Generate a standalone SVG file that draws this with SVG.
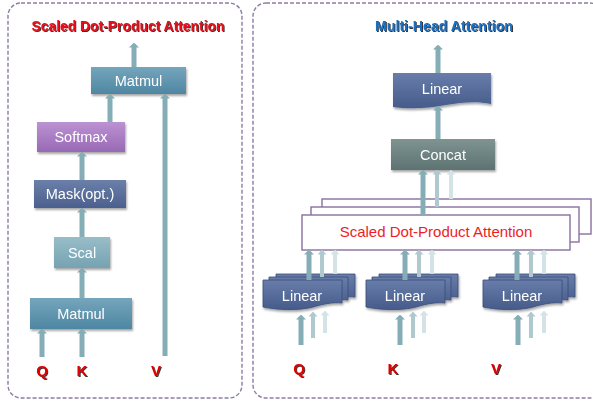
<svg xmlns="http://www.w3.org/2000/svg" width="593" height="401" viewBox="0 0 593 401">
<defs>
<style>
.panel{fill:#fff;stroke:#8c7ca3;stroke-width:1.4;stroke-dasharray:4 2}
.lbl{font-family:"Liberation Sans",Arial,sans-serif;font-size:14.5px;fill:#fff;text-anchor:middle}
.ttl{font-family:"Liberation Sans",Arial,sans-serif;font-size:14px;font-weight:bold;text-anchor:middle;filter:url(#ts)}
.qkv{font-family:"Liberation Sans",Arial,sans-serif;font-size:15px;font-weight:bold;fill:#e00000;text-anchor:middle;filter:url(#ts)}
.ar1{stroke:#85adb6;stroke-width:5;fill:none;marker-end:url(#m1)}
.ar2{stroke:#afc9cf;stroke-width:4;fill:none;marker-end:url(#m2)}
.ar3{stroke:#d4e3e6;stroke-width:4;fill:none;marker-end:url(#m3)}
.sd{fill:#fff;stroke:#8a6f9e;stroke-width:1.4}
.lin{fill:url(#gLin);stroke:#3b4d77;stroke-width:0.8}
</style>
<filter id="ds" x="-10%" y="-10%" width="130%" height="140%"><feDropShadow dx="1" dy="2" stdDeviation="1.2" flood-color="#000" flood-opacity="0.35"/></filter>
<filter id="ts" x="-5%" y="-20%" width="110%" height="150%"><feDropShadow dx="1" dy="1" stdDeviation="0.4" flood-color="#1a1a1a" flood-opacity="0.9"/></filter>
<linearGradient id="gMat" x1="0" y1="0" x2="0" y2="1"><stop offset="0" stop-color="#74a6bc"/><stop offset="1" stop-color="#4f86a2"/></linearGradient>
<linearGradient id="gSoft" x1="0" y1="0" x2="0" y2="1"><stop offset="0" stop-color="#bb92d2"/><stop offset="1" stop-color="#9869b5"/></linearGradient>
<linearGradient id="gMask" x1="0" y1="0" x2="0" y2="1"><stop offset="0" stop-color="#6a7fa9"/><stop offset="1" stop-color="#4b608e"/></linearGradient>
<linearGradient id="gScal" x1="0" y1="0" x2="0" y2="1"><stop offset="0" stop-color="#97bdc8"/><stop offset="1" stop-color="#76a2b2"/></linearGradient>
<linearGradient id="gCon" x1="0" y1="0" x2="0" y2="1"><stop offset="0" stop-color="#7f9491"/><stop offset="1" stop-color="#5d7372"/></linearGradient>
<linearGradient id="gLin" x1="0" y1="0" x2="0" y2="1"><stop offset="0" stop-color="#687daa"/><stop offset="1" stop-color="#465b8a"/></linearGradient>
<marker id="m1" markerUnits="userSpaceOnUse" markerWidth="5" markerHeight="10" viewBox="0 0 5 10" refX="0.5" refY="5" orient="auto"><path d="M0,0 L5,5 L0,10 Z" fill="#85adb6"/></marker>
<marker id="m2" markerUnits="userSpaceOnUse" markerWidth="5" markerHeight="9" viewBox="0 0 5 9" refX="0.5" refY="4.5" orient="auto"><path d="M0,0 L5,4.5 L0,9 Z" fill="#afc9cf"/></marker>
<marker id="m3" markerUnits="userSpaceOnUse" markerWidth="5" markerHeight="9" viewBox="0 0 5 9" refX="0.5" refY="4.5" orient="auto"><path d="M0,0 L5,4.5 L0,9 Z" fill="#d4e3e6"/></marker>
<path id="docS" d="M0,0 H79 V23 C70,22 60,24 50,27 C35,31 15,30 0,27 Z"/>
</defs>
<rect width="593" height="401" fill="#fff"/>

<g id="panel-left">
<rect class="panel" x="8" y="3" width="234" height="395" rx="13"/>
<text class="ttl" x="128" y="31" fill="#e8101a" textLength="193" lengthAdjust="spacingAndGlyphs">Scaled Dot-Product Attention</text>
</g>
<g id="panel-right">
<rect class="panel" x="253" y="3" width="350" height="395" rx="13"/>
<text class="ttl" x="444" y="31" fill="#1d6fbf" textLength="138" lengthAdjust="spacingAndGlyphs">Multi-Head Attention</text>
</g>

<g id="matmul-top" filter="url(#ds)"><rect x="91" y="67" width="95" height="27" fill="url(#gMat)"/><text class="lbl" x="138.5" y="86">Matmul</text></g>
<g id="softmax" filter="url(#ds)"><rect x="37" y="122" width="88" height="30" fill="url(#gSoft)"/><text class="lbl" x="81" y="142">Softmax</text></g>
<g id="mask" filter="url(#ds)"><rect x="34" y="180" width="92" height="28" fill="url(#gMask)"/><text class="lbl" x="80" y="199">Mask(opt.)</text></g>
<g id="scal" filter="url(#ds)"><rect x="54" y="237" width="56" height="31" fill="url(#gScal)"/><text class="lbl" x="82" y="257.5">Scal</text></g>
<g id="matmul-bottom" filter="url(#ds)"><rect x="30" y="298" width="102" height="31" fill="url(#gMat)"/><text class="lbl" x="81" y="318.5">Matmul</text></g>

<g id="linear-top" filter="url(#ds)"><path d="M393,73 H491 V104 C478,101 462,102 446,105 C425,109 408,109 393,107 Z" fill="url(#gLin)"/><text class="lbl" x="442" y="94">Linear</text></g>
<g id="concat" filter="url(#ds)"><rect x="391" y="139" width="104" height="31" fill="url(#gCon)"/><text class="lbl" x="443" y="160">Concat</text></g>

<g id="sdpa-stack">
<rect class="sd" x="322" y="199" width="269" height="35"/>
<rect class="sd" x="311" y="207" width="268" height="35"/>
<rect class="sd" x="302" y="215" width="268" height="35"/>
<text x="436" y="237" font-family="Liberation Sans, Arial, sans-serif" font-size="15" fill="#ee1c25" text-anchor="middle">Scaled Dot-Product Attention</text>
</g>

<g id="linear-q" filter="url(#ds)">
<use href="#docS" class="lin" x="276" y="274"/>
<use href="#docS" class="lin" x="269" y="277"/>
<use href="#docS" class="lin" x="263" y="280"/>
<text class="lbl" x="302" y="301">Linear</text>
</g>
<g id="linear-k" filter="url(#ds)">
<use href="#docS" class="lin" x="379" y="274"/>
<use href="#docS" class="lin" x="372" y="277"/>
<use href="#docS" class="lin" x="366" y="280"/>
<text class="lbl" x="405" y="301">Linear</text>
</g>
<g id="linear-v" filter="url(#ds)">
<use href="#docS" class="lin" x="496" y="274"/>
<use href="#docS" class="lin" x="489" y="277"/>
<use href="#docS" class="lin" x="483" y="280"/>
<text class="lbl" x="522" y="301">Linear</text>
</g>

<g id="connectors">
<line class="ar1" x1="134" y1="67" x2="134" y2="47"/>
<line class="ar1" x1="110" y1="122" x2="110" y2="98"/>
<line class="ar1" x1="82" y1="180" x2="82" y2="156"/>
<line class="ar1" x1="82" y1="237" x2="82" y2="212"/>
<line class="ar1" x1="82" y1="298" x2="82" y2="272"/>
<line class="ar1" x1="42" y1="357" x2="42" y2="333"/>
<line class="ar1" x1="82" y1="357" x2="82" y2="333"/>
<line class="ar1" x1="165" y1="356" x2="165" y2="98"/>

<line class="ar1" x1="438" y1="73" x2="438" y2="49"/>
<line class="ar1" x1="438" y1="139" x2="438" y2="110"/>
<line class="ar1" x1="423" y1="215" x2="423" y2="174"/>
<line class="ar2" x1="437" y1="207" x2="437" y2="174"/>
<line class="ar3" x1="451" y1="199" x2="451" y2="174"/>

<line class="ar1" x1="309" y1="280" x2="309" y2="254"/>
<line class="ar2" x1="322" y1="277" x2="322" y2="254"/>
<line class="ar3" x1="335" y1="274" x2="335" y2="254"/>
<line class="ar1" x1="405" y1="280" x2="405" y2="254"/>
<line class="ar2" x1="419" y1="277" x2="419" y2="254"/>
<line class="ar3" x1="432" y1="274" x2="432" y2="254"/>
<line class="ar1" x1="517" y1="280" x2="517" y2="254"/>
<line class="ar2" x1="531" y1="277" x2="531" y2="254"/>
<line class="ar3" x1="544" y1="274" x2="544" y2="254"/>

<line class="ar1" x1="301" y1="345" x2="301" y2="319"/>
<line class="ar2" x1="313" y1="338" x2="313" y2="316"/>
<line class="ar3" x1="325" y1="333" x2="325" y2="315"/>
<line class="ar1" x1="400" y1="345" x2="400" y2="319"/>
<line class="ar2" x1="413" y1="338" x2="413" y2="316"/>
<line class="ar3" x1="424" y1="333" x2="424" y2="315"/>
<line class="ar1" x1="518" y1="345" x2="518" y2="319"/>
<line class="ar2" x1="531" y1="338" x2="531" y2="316"/>
<line class="ar3" x1="544" y1="333" x2="544" y2="315"/>
</g>

<g id="labels">
<text class="qkv" x="42" y="376">Q</text>
<text class="qkv" x="82" y="376">K</text>
<text class="qkv" x="156" y="376">V</text>
<text class="qkv" x="299" y="374">Q</text>
<text class="qkv" x="393" y="374">K</text>
<text class="qkv" x="496" y="374">V</text>
</g>
</svg>
